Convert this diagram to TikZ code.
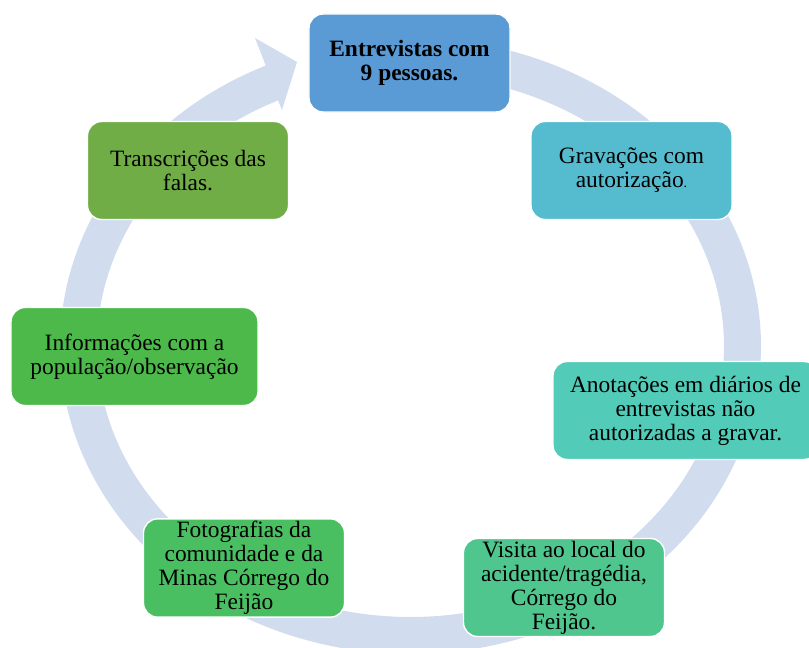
\documentclass[tikz,border=0pt]{standalone}
\usepackage{fontspec}
\setmainfont{Liberation Serif}

\definecolor{ringblue}{HTML}{D1DCEE}
\definecolor{entrblue}{HTML}{5B9BD5}
\definecolor{gravteal}{HTML}{55BCD0}
\definecolor{anotaqua}{HTML}{52CCB8}
\definecolor{visigreen}{HTML}{4EC68E}
\definecolor{fotogreen}{HTML}{49BF62}
\definecolor{infogreen}{HTML}{4DB94B}
\definecolor{trangreen}{HTML}{70AD47}

\begin{document}
\begin{tikzpicture}[
    x=0.03cm, y=-0.03cm,
    box/.style={rectangle, rounded corners=12pt, draw=white, line width=1.2pt, align=center,
        inner sep=2pt, minimum width=6.03cm, minimum height=2.94cm,
        font=\fontsize{20}{20.5}\selectfont},
    ring/.style={fill=ringblue, draw=none},
]

    \useasboundingbox (0,0) rectangle (809,648);

    % --- Cycle arrow (behind the boxes) ---
    \coordinate (WingOut) at (255,38);
    \coordinate (Tip)     at (297,62);
    \coordinate (WingIn)  at (282,110);
    \fill[ring] plot[domain=-85:245.6, samples=120, smooth] ({410.5+350.5*cos(\x)}, {346+308*sin(\x)})
        -- (WingOut) -- (Tip) -- (WingIn)
        -- plot[domain=245:-85, samples=120, smooth] ({410.5+313.5*cos(\x)}, {346+271*sin(\x)})
        -- cycle;

    % --- Top ---
    \node[box, fill=entrblue, font=\fontsize{20}{20.5}\selectfont\bfseries] (Entr) at (409.5,63)
        {Entrevistas com\\9 pessoas.};

    % --- Right side ---
    \node[box, fill=gravteal] (Grav) at (631.5,170.5)
        {Gravações com\\autorização{\fontsize{12}{12}\selectfont.}};
    \node[box, fill=anotaqua, minimum width=7.95cm] (Anot) at (685.5,410.5)
        {Anotações em diários de\\entrevistas não\\autorizadas a gravar.};

    % --- Bottom ---
    \node[box, fill=visigreen] (Visi) at (564,587.5)
        {Visita ao local do\\acidente/tragédia,\\Córrego do\\Feijão.};
    \node[box, fill=fotogreen] (Foto) at (244,568)
        {Fotografias da\\comunidade e da\\Minas Córrego do\\Feijão};

    % --- Left side ---
    \node[box, fill=infogreen, minimum width=7.41cm] (Info) at (134.5,356.5)
        {Informações com a\\população/observação};
    \node[box, fill=trangreen] (Tran) at (188,170.5)
        {Transcrições das\\falas.};

\end{tikzpicture}
\end{document}
